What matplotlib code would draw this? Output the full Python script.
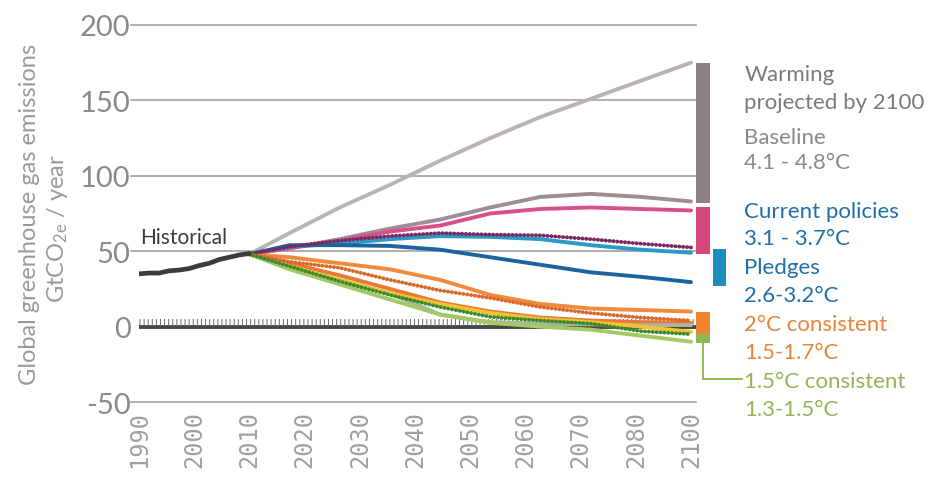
import matplotlib
matplotlib.use("Agg")
import matplotlib.pyplot as plt
import numpy as np

plt.rcParams['font.family'] = ['Lato', 'DejaVu Sans']
plt.rcParams['mathtext.default'] = 'regular'

# historical emissions, GtCO2e / year
hist_years = [1990, 1992, 1994, 1996, 1998, 2000, 2002, 2004, 2006, 2008, 2010, 2012]
hist_vals = [35, 35.5, 35.5, 37, 37.5, 38.5, 40.5, 42, 44.5, 46, 47.5, 48.5]

# scenario pathways
years = [2012, 2020, 2030, 2040, 2050, 2060, 2070, 2080, 2090, 2100]
baseline_hi = [48, 62, 79, 94, 110, 125, 139, 151, 163, 175]
baseline_lo = [48, 52, 58, 65, 71, 79, 86, 88, 86, 83]
policies_hi = [48, 52, 57, 63, 67, 75, 78, 79, 78, 77]
policies_dot = [48, 53, 57, 60, 62, 61, 60.5, 58, 55, 52.5]
pledges_hi = [48, 53, 55, 58, 60, 59.5, 58, 54, 51, 49]
pledges_lo = [48, 54, 54, 53.5, 51, 46, 41, 36, 33, 29.5]
c2_hi = [48, 46, 42, 38, 31, 21, 15, 12, 11, 10]
c2_dot = [48, 43, 39, 31, 24, 19, 13, 9, 6, 4]
c2_lo = [48, 42, 34, 25, 16, 10, 6, 4, 3, 2.5]
c2_sage = [48, 40, 31, 22, 8, 3, 2, 1.5, 1, 1]
c15_yellow = [48, 40, 31, 22, 15, 9, 5, 3, 0, -3.5]
c15_dot = [48, 40, 30, 21, 13, 6.5, 4, 2, -3, -5]
c15_lo = [48, 38, 28, 18, 8, 2.5, 0, -2, -6, -10]

# 2100 ranges per scenario
range_names = ['Baseline', 'Current policies', 'Pledges', '2°C', '1.5°C']
range_low = [82, 48, 27, -5, -11]
range_high = [175, 79, 51.5, 10, -5]
range_colors = ['#8d7f88', '#d5467c', '#1b8ec0', '#ef8431', '#8cba4e']

xtick_labels = ['1990', '2000', '2010', '2020', '2030', '2040', '2050',
                '2060', '2070', '2080', '2100']
yticks = [-50, 0, 50, 100, 150, 200]

fig = plt.figure(figsize=(9.51, 4.81), dpi=100)
ax = fig.add_axes([139 / 951, 76 / 481, 812 / 951, 405 / 481])
ax.set_xlim(1990, 1990 + 812 / 5.018)
ax.set_ylim(-51.3, 217.2)
for s in ax.spines.values():
    s.set_visible(False)

# grid
for y in yticks:
    if y == 0:
        continue
    ax.plot([1988.5, 2101], [y, y], color='#9a9a9a', lw=1.1, zorder=1, clip_on=False)
ax.plot([1990, 2101], [0, 0], color='#474747', lw=2.8, zorder=2)
ax.plot([1990, 2101], [2.8, 2.8], color='#6a6a6a', lw=5,
        linestyle=(0, (0.14, 0.45)), zorder=2)

ax.set_xticks(np.linspace(1990, 2100, 11))
ax.set_xticklabels(xtick_labels, rotation=90, family='DejaVu Sans Mono',
                   fontsize=17, color='#a0a0a0')
ax.set_yticks(yticks)
ax.set_yticklabels([str(v) for v in yticks], fontsize=21, color='#8a8a8a')
ax.tick_params(axis='both', length=0)
ax.tick_params(axis='y', pad=6)
ax.tick_params(axis='x', pad=4)

kw = dict(lw=2.8, solid_capstyle='round', solid_joinstyle='round', zorder=3)
dot = dict(lw=2.8, linestyle=(0, (0.05, 0.95)), dash_capstyle='round', zorder=4)

ax.plot(years, baseline_hi, color='#b9b3b6', **kw)
ax.plot(years, baseline_lo, color='#9e8d96', **kw)
ax.plot(years, policies_hi, color='#d8508a', **kw)
ax.plot(years, pledges_hi, color='#2a9bc9', **kw)
ax.plot(years, policies_dot, color='#7a2a62', **dot)
ax.plot(years, pledges_lo, color='#1c64a0', **kw)
ax.plot(years, c2_hi, color='#f08a3c', **kw)
ax.plot(years, c2_lo, color='#e87a35', **kw)
ax.plot(years, c2_sage, color='#aab59f', **kw)
ax.plot(years, c2_dot, color='#d8692a', **dot)
ax.plot(years, c15_yellow, color='#f2c230', **kw)
ax.plot(years, c15_lo, color='#a4c862', **kw)
ax.plot(years, c15_dot, color='#3d8a2c', **dot)
ax.plot(hist_years, hist_vals, color='#3c3c3c', lw=3.4, solid_capstyle='round', zorder=5)

ax.text(1990.3, 53, 'Historical', fontsize=15, color='#3c3c3c', va='bottom', ha='left')

# ranges in 2100
bar_x = [2102.4, 2102.4, 2105.6, 2102.4, 2102.4]
bar_w = [2.8, 2.8, 2.6, 2.6, 2.6]
for xb, wb, lo, hi, c in zip(bar_x, bar_w, range_low, range_high, range_colors):
    ax.bar(xb, hi - lo, bottom=lo, width=wb, color=c, zorder=3, clip_on=False)

ax.plot([2102.4, 2102.4, 2110.2], [-11, -34.8, -34.8], color='#8cba4e', lw=1.4,
        clip_on=False, zorder=3)

tx = 2110.6
notes = [
    ('Warming', 167.5, '#7a7a7a'),
    ('projected by 2100', 149, '#7a7a7a'),
    ('Baseline', 126, '#8a8a8a'),
    ('4.1 - 4.8°C', 109, '#8a8a8a'),
    ('Current policies', 76.7, '#1f6fa8'),
    ('3.1 - 3.7°C', 58.8, '#1f6fa8'),
    ('Pledges', 39.5, '#1f6fa8'),
    ('2.6-3.2°C', 21, '#1f6fa8'),
    ('2°C consistent', 1.7, '#e8853a'),
    ('1.5-1.7°C', -16.8, '#e8853a'),
    ('1.5°C consistent', -36, '#93b557'),
    ('1.3-1.5°C', -54.6, '#93b557'),
]
for txt, y, c in notes:
    ax.text(tx, y, txt, fontsize=16, color=c, va='center', ha='left', clip_on=False)

fig.text(30 / 951, 1 - 214 / 481, 'Global greenhouse gas emissions', rotation=90,
         fontsize=17, color='#9a9a9a', ha='center', va='center')
fig.text(58 / 951, 1 - 228 / 481, r'GtCO$_{2e}$ / year', rotation=90,
         fontsize=17, color='#9a9a9a', ha='center', va='center')

fig.savefig('out.png', dpi=100, facecolor='white')
